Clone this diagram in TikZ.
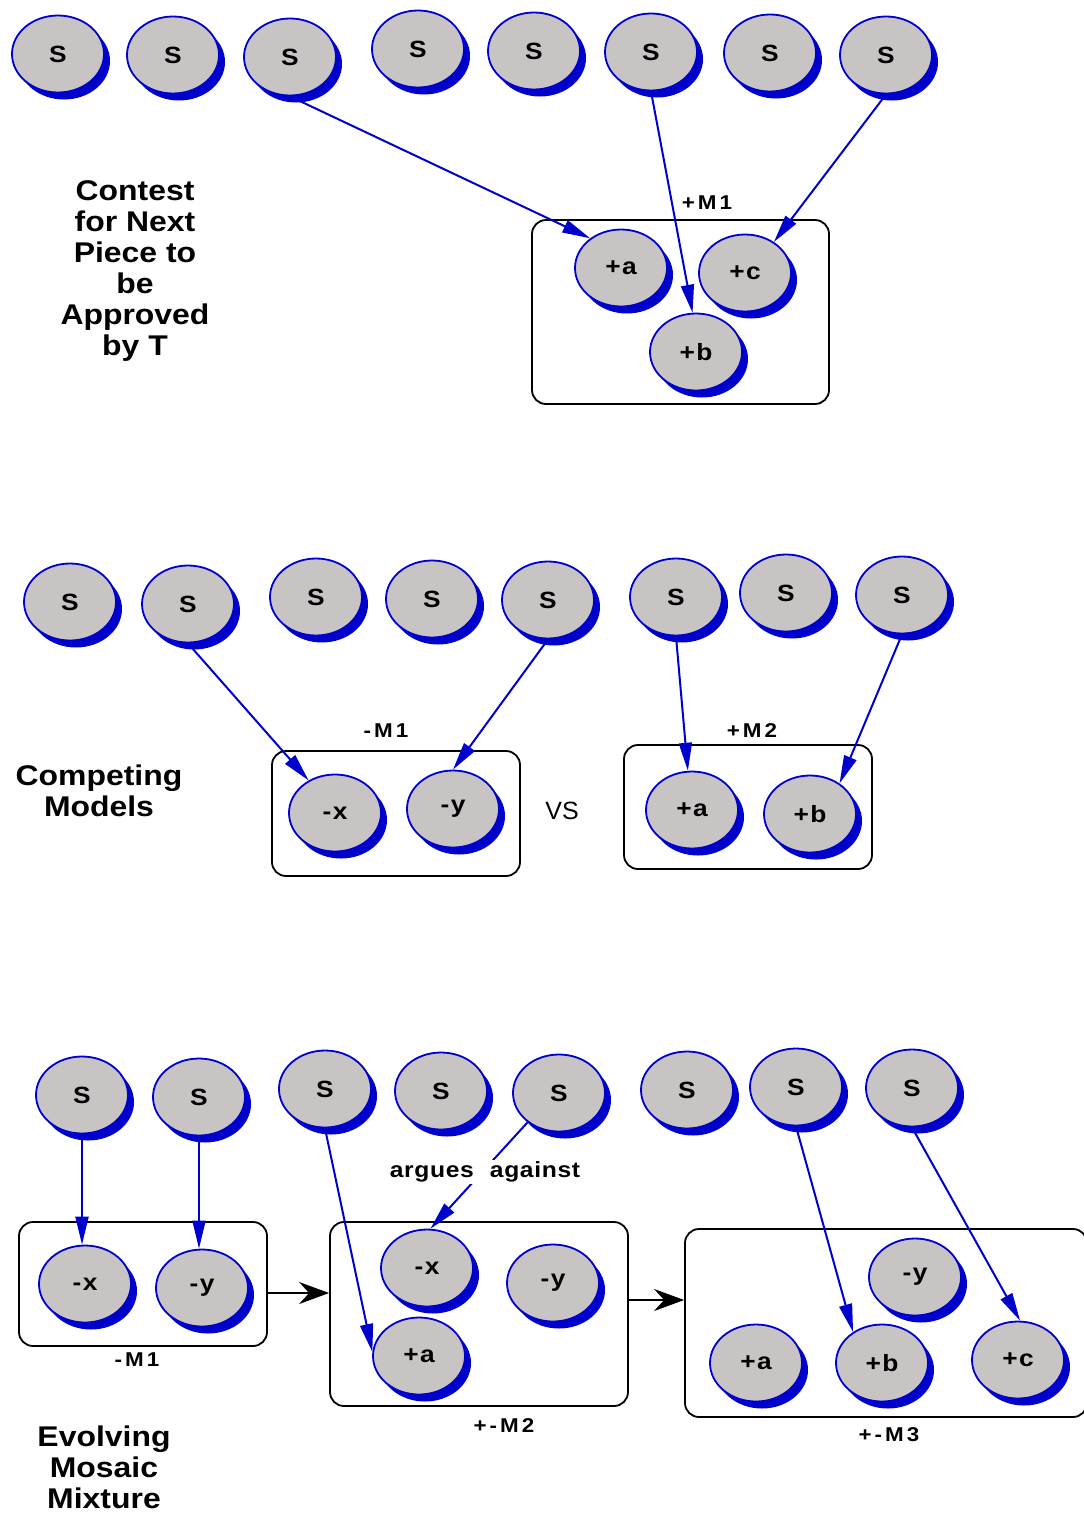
\documentclass[tikz,border=0pt]{standalone}
\usepackage{fontspec}
\setmainfont{Liberation Sans}
\newfontfamily\lblfont[FakeStretch=1.12]{Liberation Sans}
\usetikzlibrary{shapes.geometric,shadows,arrows.meta,calc}
\definecolor{nodeblue}{RGB}{0,0,204}
\definecolor{nodegray}{RGB}{200,196,196}

\tikzset{
  agent/.style={ellipse, minimum width=92pt, minimum height=77pt, inner sep=0pt,
    fill=nodegray, draw=nodeblue, line width=1.8pt,
    drop shadow={shadow xshift=6pt, shadow yshift=-7pt, fill=nodeblue, opacity=1},
    font=\lblfont\bfseries\fontsize{23.5}{24}\selectfont\addfontfeature{LetterSpace=6}},
  model/.style={draw=black, line width=1.8pt, rounded corners=14pt, inner sep=0pt},
  vote/.style={draw=nodeblue, line width=2pt, -{Triangle[length=28pt,width=13pt]}},
  flowarrow/.style={draw=black, line width=2pt, -{Stealth[length=30pt,width=22pt,inset=10pt]}},
  heading/.style={align=center, font=\lblfont\bfseries\fontsize{28.5}{31}\selectfont},
  mlabel/.style={inner sep=1pt, font=\lblfont\bfseries\fontsize{20}{20}\selectfont\addfontfeature{LetterSpace=15}},
}

\begin{document}
\begin{tikzpicture}[x=1pt,y=-1pt]
\useasboundingbox (0,0) rectangle (1084,1513);

% ---------- Contest for next piece ----------
\node[heading] (h1) at (135,271) {Contest\\for Next\\Piece to\\be\\Approved\\by T};

\node[model, minimum width=297pt, minimum height=184pt] (ma) at (680.5,312) {};
\node[mlabel] (ma-l) at (707,203) {+M1};

\node[agent] (sa1) at (58,54) {S};
\node[agent] (sa2) at (173,55) {S};
\node[agent] (sa3) at (290,57) {S};
\node[agent] (sa4) at (418,49) {S};
\node[agent] (sa5) at (534,51) {S};
\node[agent] (sa6) at (651,52) {S};
\node[agent] (sa7) at (770,53) {S};
\node[agent] (sa8) at (886,55) {S};

\node[agent] (ma-a) at (621,268) {+a};
\node[agent] (ma-c) at (745,273) {+c};
\node[agent] (ma-b) at (696,352) {+b};

\draw[vote] (sa3.south) -- (ma-a.136);
\draw[vote] (sa6.south) -- (ma-b.95);
\draw[vote] (sa8.south) -- (ma-c.47);

% ---------- Competing models ----------
\node[heading] (h2) at (99,791) {Competing\\Models};

\node[model, minimum width=248pt, minimum height=125pt] (mb) at (396,813.5) {};
\node[mlabel] (mb-l) at (386,731) {-M1};
\node[model, minimum width=248pt, minimum height=124pt] (mc) at (748,807) {};
\node[mlabel] (mc-l) at (752,731) {+M2};
\node[font=\fontsize{25}{25}\selectfont] (vs) at (562,811) {VS};

\node[agent] (sb1) at (70,602) {S};
\node[agent] (sb2) at (188,604) {S};
\node[agent] (sb3) at (316,597) {S};
\node[agent] (sb4) at (432,599) {S};
\node[agent] (sb5) at (548,600) {S};
\node[agent] (sb6) at (676,597) {S};
\node[agent] (sb7) at (786,593) {S};
\node[agent] (sb8) at (902,595) {S};

\node[agent] (mb-x) at (335,813) {-x};
\node[agent] (mb-y) at (453,809) {-y};
\node[agent] (mc-a) at (692,810) {+a};
\node[agent] (mc-b) at (810,814) {+b};

\draw[vote] (sb2.south) -- (mb-x.129);
\draw[vote] (sb5.south) -- (mb-y.90);
\draw[vote] (sb6.south) -- (mc-a.96);
\draw[vote] (sb8.south) -- (mc-b.46);

% ---------- Evolving mosaic mixture ----------
\node[heading] (h3) at (104,1467) {Evolving\\Mosaic\\Mixture};

\node[model, minimum width=248pt, minimum height=124pt] (md) at (143,1284) {};
\node[mlabel] (md-l) at (137,1360) {-M1};
\node[model, minimum width=298pt, minimum height=184pt] (me) at (479,1314) {};
\node[mlabel] (me-l) at (504,1425) {+-M2};
\node[model, minimum width=402pt, minimum height=188pt] (mf) at (886,1323) {};
\node[mlabel] (mf-l) at (889,1435) {+-M3};

\node[agent] (sc1) at (82,1095) {S};
\node[agent] (sc2) at (199,1097) {S};
\node[agent] (sc3) at (325,1089) {S};
\node[agent] (sc4) at (441,1091) {S};
\node[agent] (sc5) at (559,1093) {S};
\node[agent] (sc6) at (687,1090) {S};
\node[agent] (sc7) at (796,1087) {S};
\node[agent] (sc8) at (912,1088) {S};

\node[agent] (md-x) at (85,1284) {-x};
\node[agent] (md-y) at (202,1288) {-y};
\node[agent] (me-x) at (427,1268) {-x};
\node[agent] (me-y) at (553,1283) {-y};
\node[agent] (me-a) at (419,1356) {+a};
\node[agent] (mf-y) at (915,1277) {-y};
\node[agent] (mf-a) at (756,1363) {+a};
\node[agent] (mf-b) at (882,1363) {+b};
\node[agent] (mf-c) at (1018,1360) {+c};

\draw[vote] (sc1.south) -- (sc1.south |- md-x.north);
\draw[vote] (sc2.south) -- (sc2.south |- md-y.north);
\draw[vote] (sc3.south) -- (me-a.175);
\draw[vote] (sc5.223) -- (me-x.85);
\node[fill=white, inner sep=2pt, font=\lblfont\bfseries\fontsize{22}{22}\selectfont\addfontfeature{LetterSpace=3}] (argue) at (485,1172) {argues\hspace{16pt}against};
\draw[vote] (sc7.south) -- (mf-b.133);
\draw[vote] (sc8.south) -- (mf-c.87);

\draw[flowarrow] ([yshift=-9pt]md.east) -- ([yshift=-9pt]md.east -| me.west);
\draw[flowarrow] ([yshift=14pt]me.east) -- ([yshift=14pt]me.east -| mf.west);
\end{tikzpicture}
\end{document}
